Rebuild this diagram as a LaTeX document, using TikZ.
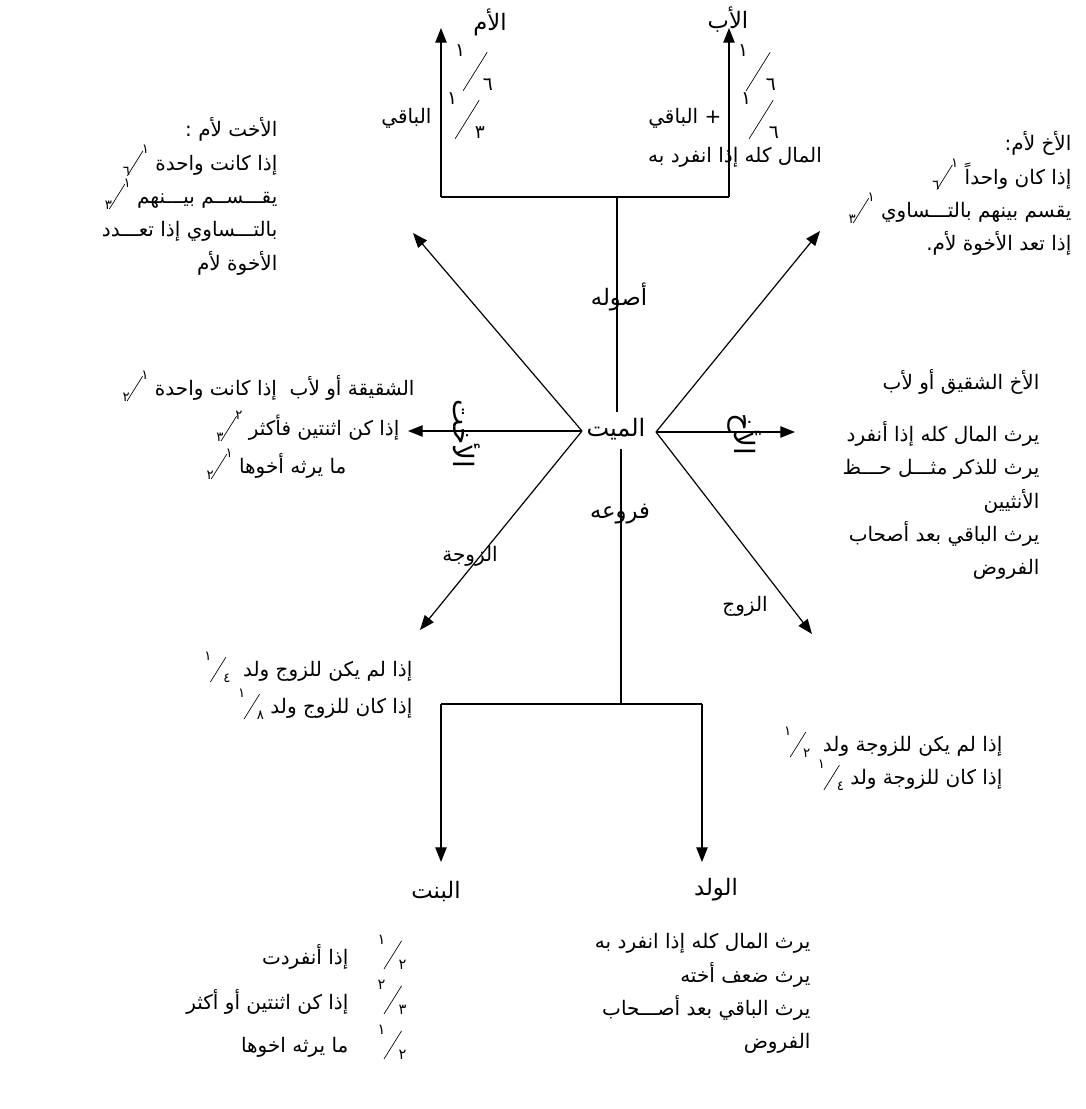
\documentclass[tikz,border=0pt]{standalone}
\usepackage{fontspec}
\usepackage{graphicx}
\usetikzlibrary{arrows.meta}
\newfontfamily\arabicfont[Script=Arabic]{DejaVu Sans}
\TeXXeTstate=1

\newcommand\AR[1]{\beginR#1\endR}
\newlength\slen
\setlength\slen{22pt}
\newcommand\fsm{\fontsize{10}{10}\selectfont}
% numerator high on the left
\newcommand\frL[2]{\beginL\raisebox{.55\slen}{\fsm #1}\kern-.05\slen%
  \raisebox{-.2\slen}{\rotatebox{58}{\rule{\slen}{.5pt}}}\kern-.1\slen%
  \raisebox{-.2\slen}{\fsm #2}\endL}
% denominator low on the left
\newcommand\frR[2]{\beginL\raisebox{-.2\slen}{\fsm #2}\kern-.1\slen%
  \raisebox{-.2\slen}{\rotatebox{58}{\rule{\slen}{.5pt}}}\kern-.05\slen%
  \raisebox{.55\slen}{\fsm #1}\endL}

\begin{document}
\begin{tikzpicture}[x=0.75pt,y=-0.75pt,
    every node/.style={font=\arabicfont\fontsize{15}{25}\selectfont,inner sep=1pt},
    head/.style={font=\arabicfont\fontsize{17}{20}\selectfont},
    arr/.style={-{Triangle[length=11pt,width=8.5pt]},line width=0.9pt},
    ln/.style={line width=0.9pt},
    bigfrac/.style={execute at begin node={\setlength\slen{34pt}\renewcommand\fsm{\fontsize{14}{14}\selectfont}}},
    midfrac/.style={execute at begin node={\setlength\slen{25pt}\renewcommand\fsm{\fontsize{11}{11}\selectfont}}}]
  \useasboundingbox (0,0) rectangle (1085,1109);

  % the deceased
  \node[font=\arabicfont\fontsize{18}{20}\selectfont] (mayyit) at (616,429) {\AR{الميت}};
  \coordinate (vL) at (582,431);
  \coordinate (vR) at (656,432);
  \coordinate (upS) at (617,412);
  \coordinate (dnS) at (621,449);

  % ascendants
  \coordinate (upM) at (617,197);
  \coordinate (upL) at (441,197);
  \coordinate (upR) at (729,197);
  \coordinate (tUmm) at (441,28);
  \coordinate (tAb) at (729,28);
  \draw[ln] (upS) -- (upM);
  \draw[ln] (upL) -- (upR);
  \draw[arr] (upL) -- (tUmm);
  \draw[arr] (upR) -- (tAb);
  \node[head] (usul) at (619,297) {\AR{أصوله}};
  \node[head] (umm) at (490,22) {\AR{الأم}};
  \node[head] (ab) at (728,20) {\AR{الأب}};
  \node[bigfrac] (fu1) at (474,68) {\frL{١}{٦}};
  \node[bigfrac] (fu2) at (466,116) {\frL{١}{٣}};
  \node[anchor=east] (baqi1) at (433,118) {\AR{الباقي}};
  \node[bigfrac] (fa1) at (757,68) {\frL{١}{٦}};
  \node[bigfrac] (fa2) at (760,116) {\frL{١}{٦}};
  \node[anchor=east] (baqi2) at (723,118) {\AR{+ الباقي}};
  \node (kull) at (735,157) {\AR{المال كله إذا انفرد به}};

  % collaterals
  \coordinate (tUL) at (413,233);
  \coordinate (tL) at (408,431);
  \coordinate (tLL) at (420,630);
  \coordinate (tUR) at (820,231);
  \coordinate (tR) at (795,432);
  \coordinate (tLR) at (812,634);
  \draw[arr] (vL) -- (tUL);
  \draw[arr] (vL) -- (tL);
  \draw[arr] (vL) -- (tLL);
  \draw[arr] (vR) -- (tUR);
  \draw[arr] (vR) -- (tR);
  \draw[arr] (vR) -- (tLR);
  \node[rotate=-90,font=\arabicfont\fontsize{21}{24}\selectfont] (ukhtV) at (467,434) {\AR{الأخت}};
  \node[rotate=-90,font=\arabicfont\fontsize{21}{24}\selectfont] (akhV) at (744,434) {\AR{الأخ}};
  \node (zawja) at (470,556) {\AR{الزوجة}};
  \node (zawj) at (745,606) {\AR{الزوج}};

  \node[anchor=north east,align=right] (ukhtUmm) at (279,116) {%
    \AR{الأخت لأم :}\\
    \AR{إذا كانت واحدة\ \frR{١}{٦}}\\
    \AR{يقـــســم بيـــنهم\ \frR{١}{٣}}\\
    \AR{بالتـــساوي إذا تعـــدد}\\
    \AR{الأخوة لأم}};
  \node[anchor=north east,align=right] (akhUmm) at (1073,130) {%
    \AR{الأخ لأم:}\\
    \AR{إذا كان واحداً\ \frR{١}{٦}}\\
    \AR{يقسم بينهم بالتـــساوي\ \frR{١}{٣}}\\
    \AR{إذا تعد الأخوة لأم.}};
  \node[anchor=north east,align=right] (akhShaqiq) at (1041,368) {%
    \AR{الأخ الشقيق أو لأب}\\[14pt]
    \AR{يرث المال كله إذا أنفرد}\\
    \AR{يرث للذكر مثـــل حـــظ}\\
    \AR{الأنثيين}\\
    \AR{يرث الباقي بعد أصحاب}\\
    \AR{الفروض}};
  \node[anchor=east] (sh1) at (416,386) {\AR{الشقيقة أو لأب\ \ إذا كانت واحدة\ \frR{١}{٢}}};
  \node[anchor=east] (sh2) at (401,426) {\AR{إذا كن اثنتين فأكثر\ \frR{٢}{٣}}};
  \node[anchor=east] (sh3) at (348,464) {\AR{ما يرثه أخوها\ \frR{١}{٢}}};

  % spouses
  \node[anchor=east] (zw1) at (414,667) {\AR{إذا لم يكن للزوج ولد\ \ \frL{١}{٤}}};
  \node[anchor=east] (zw2) at (414,704) {\AR{إذا كان للزوج ولد\ \frL{١}{٨}}};
  \node[anchor=east] (zj1) at (1004,742) {\AR{إذا لم يكن للزوجة ولد\ \ \frL{١}{٢}}};
  \node[anchor=east] (zj2) at (1004,775) {\AR{إذا كان للزوجة ولد\ \frL{١}{٤}}};

  % descendants
  \coordinate (dnM) at (621,704);
  \coordinate (dnL) at (441,704);
  \coordinate (dnR) at (702,704);
  \coordinate (tBint) at (441,862);
  \coordinate (tWalad) at (702,862);
  \draw[ln] (dnS) -- (dnM);
  \draw[ln] (dnL) -- (dnR);
  \draw[arr] (dnL) -- (tBint);
  \draw[arr] (dnR) -- (tWalad);
  \node[head] (furu) at (620,514) {\AR{فروعه}};
  \node[head] (bint) at (436,892) {\AR{البنت}};
  \node[head] (walad) at (716,890) {\AR{الولد}};

  \node[midfrac] (bf1) at (392,952) {\frL{١}{٢}};
  \node[midfrac] (bf2) at (392,997) {\frL{٢}{٣}};
  \node[midfrac] (bf3) at (392,1042) {\frL{١}{٢}};
  \node[anchor=east] (bt1) at (350,957) {\AR{إذا أنفردت}};
  \node[anchor=east] (bt2) at (350,1002) {\AR{إذا كن اثنتين أو أكثر}};
  \node[anchor=east] (bt3) at (350,1047) {\AR{ما يرثه اخوها}};
  \node[anchor=north east,align=right] (waladTxt) at (812,932) {%
    \AR{يرث المال كله إذا انفرد به}\\
    \AR{يرث ضعف أخته}\\
    \AR{يرث الباقي بعد أصـــحاب}\\
    \AR{الفروض}};
\end{tikzpicture}
\end{document}
